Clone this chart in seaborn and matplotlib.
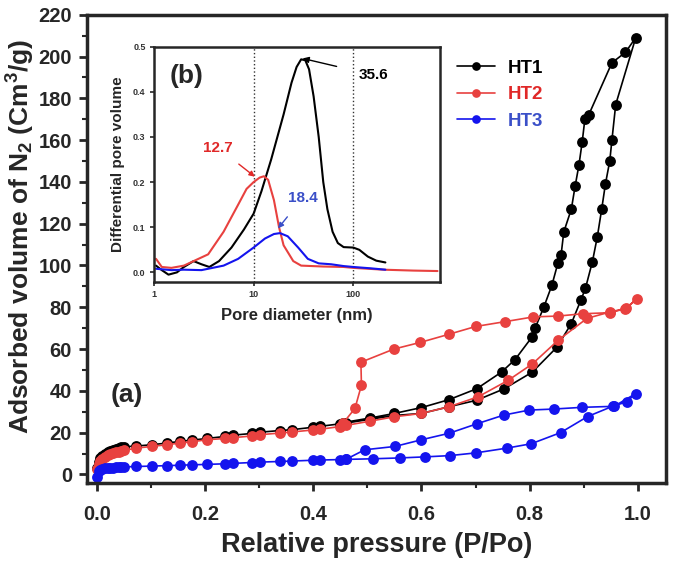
import numpy as np
import pandas as pd
import matplotlib
matplotlib.use('Agg')
import matplotlib.pyplot as plt
import seaborn as sns
from matplotlib.ticker import MultipleLocator, FixedLocator, NullLocator

sns.set_style('ticks')
plt.rcParams['font.family'] = ['Liberation Sans', 'DejaVu Sans']
plt.rcParams['font.weight'] = 'bold'
plt.rcParams['mathtext.fontset'] = 'custom'
plt.rcParams['mathtext.rm'] = 'Liberation Sans:bold'
plt.rcParams['mathtext.bf'] = 'Liberation Sans:bold'
plt.rcParams['mathtext.it'] = 'Liberation Sans:bold'
plt.rcParams['mathtext.default'] = 'bf'

# ---- isotherm data (P/Po, volume) ----
p_low = [0.001, 0.003, 0.006, 0.010, 0.015, 0.020, 0.025, 0.030, 0.035, 0.040, 0.045, 0.050,
         0.073, 0.101, 0.129, 0.153, 0.175, 0.203, 0.237, 0.252, 0.286, 0.301, 0.338, 0.360,
         0.400, 0.412, 0.449, 0.461]

ht1_low = [3.0, 6.0, 7.8, 9.0, 10.0, 10.7, 11.3, 11.8, 12.2, 12.6, 12.9, 13.2,
           13.6, 14.2, 15.0, 15.8, 16.4, 17.2, 18.2, 18.8, 19.6, 20.2, 21.0, 21.4,
           22.6, 23.0, 24.2, 24.6]
ht1_ads_p = [0.505, 0.550, 0.600, 0.651, 0.702, 0.753, 0.805, 0.850, 0.877, 0.895, 0.903, 0.916,
             0.925, 0.933, 0.940, 0.948, 0.952, 0.959, 0.996]
ht1_ads_v = [26.4, 28.2, 29.2, 32.4, 35.5, 41.0, 49.0, 60.8, 72.2, 83.7, 89.0, 101.9,
             113.7, 126.8, 139.0, 150.0, 160.0, 177.0, 209.0]
ht1_des_p = [0.977, 0.952, 0.909, 0.902, 0.897, 0.891, 0.884, 0.877, 0.863, 0.858, 0.852, 0.841,
             0.826, 0.810, 0.805, 0.773, 0.748, 0.702, 0.651, 0.600, 0.550, 0.505, 0.455]
ht1_des_v = [202.0, 197.0, 172.0, 170.0, 159.0, 148.0, 138.0, 127.0, 116.0, 105.0, 101.0, 90.5,
             80.0, 70.0, 66.0, 55.0, 49.0, 41.0, 35.8, 32.0, 29.2, 27.0, 24.8]

ht2_low = [2.5, 5.0, 6.5, 7.6, 8.5, 9.2, 9.8, 10.2, 10.6, 10.9, 11.2, 11.5,
           12.6, 13.4, 14.2, 15.0, 15.6, 16.6, 17.2, 17.6, 18.4, 19.0, 19.8, 20.3,
           21.3, 21.6, 22.9, 23.5]
ht2_ads_p = [0.505, 0.550, 0.600, 0.651, 0.705, 0.760, 0.805, 0.853, 0.906, 0.948, 0.978, 0.998]
ht2_ads_v = [25.5, 27.6, 29.2, 32.4, 37.2, 45.0, 52.9, 64.3, 74.7, 77.7, 79.5, 84.0]
ht2_des_p = [0.977, 0.948, 0.898, 0.853, 0.807, 0.754, 0.700, 0.651, 0.598, 0.549, 0.488, 0.489,
             0.477, 0.455]
ht2_des_v = [79.3, 77.4, 76.9, 75.8, 75.4, 73.1, 70.8, 67.1, 63.2, 60.0, 53.7, 42.7,
             31.6, 24.5]

ht3_low = [-1.0, 1.5, 2.2, 2.6, 2.9, 3.1, 3.2, 3.3, 3.4, 3.5, 3.5, 3.6,
           3.8, 4.0, 4.2, 4.4, 4.6, 4.8, 5.1, 5.3, 5.7, 5.9, 6.2, 6.4,
           6.8, 6.9, 7.1, 7.2]
ht3_ads_p = [0.511, 0.560, 0.606, 0.652, 0.700, 0.758, 0.803, 0.857, 0.907, 0.954, 0.979, 0.996]
ht3_ads_v = [7.5, 7.9, 8.4, 9.0, 10.3, 12.6, 14.7, 20.0, 27.7, 32.7, 34.7, 38.7]
ht3_des_p = [0.956, 0.896, 0.845, 0.799, 0.752, 0.702, 0.651, 0.600, 0.551, 0.495, 0.461]
ht3_des_v = [32.6, 32.1, 31.3, 30.8, 28.4, 24.2, 19.7, 16.6, 13.4, 11.8, 7.3]

# ---- pore size distribution (inset) ----
d_ht1 = [1.05, 1.2, 1.4, 1.7, 2.0, 2.5, 3.0, 3.6, 4.5, 6, 8, 10, 12, 15, 20, 24, 27, 30, 33,
         36, 40, 45, 50, 55, 62, 70, 80, 100, 115, 140, 170, 210]
dv_ht1 = [0.015, 0.005, -0.005, 0.0, 0.012, 0.025, 0.018, 0.012, 0.025, 0.055, 0.095, 0.13,
          0.18, 0.25, 0.35, 0.42, 0.455, 0.472, 0.47, 0.45, 0.39, 0.30, 0.20, 0.14, 0.09,
          0.065, 0.056, 0.055, 0.05, 0.035, 0.026, 0.022]
d_ht2 = [1.05, 1.2, 1.5, 2.0, 2.5, 3.5, 5, 7, 8.5, 10, 11.5, 12.7, 14, 16, 18, 20, 25, 30, 50,
         80, 100, 200, 400, 700]
dv_ht2 = [0.03, 0.012, 0.01, 0.015, 0.025, 0.04, 0.09, 0.15, 0.185, 0.2, 0.21, 0.213, 0.205,
          0.16, 0.10, 0.06, 0.025, 0.015, 0.013, 0.012, 0.01, 0.006, 0.004, 0.003]
d_ht3 = [1.05, 1.5, 2, 3, 5, 7, 10, 13, 16, 18.4, 22, 28, 35, 45, 60, 80, 100, 150, 210]
dv_ht3 = [0.008, 0.005, 0.006, 0.005, 0.015, 0.03, 0.055, 0.075, 0.085, 0.087, 0.08, 0.055,
          0.03, 0.02, 0.018, 0.014, 0.012, 0.009, 0.006]

names = ['HT1', 'HT2', 'HT3']
colors = {'HT1': 'black', 'HT2': '#E8413F', 'HT3': '#1414EE'}
text_colors = {'HT1': 'black', 'HT2': '#E02828', 'HT3': '#3A4FC8'}

iso = []
for name, low, ap, av, dp, dv in [
        ('HT1', ht1_low, ht1_ads_p, ht1_ads_v, ht1_des_p, ht1_des_v),
        ('HT2', ht2_low, ht2_ads_p, ht2_ads_v, ht2_des_p, ht2_des_v),
        ('HT3', ht3_low, ht3_ads_p, ht3_ads_v, ht3_des_p, ht3_des_v)]:
    p = list(p_low) + ap + dp
    v = list(low) + av + dv
    iso.append(pd.DataFrame({'P': p, 'V': v, 'sample': name}))
iso = pd.concat(iso, ignore_index=True)

psd = pd.concat([
    pd.DataFrame({'D': d_ht1, 'dV': dv_ht1, 'sample': 'HT1'}),
    pd.DataFrame({'D': d_ht2, 'dV': dv_ht2, 'sample': 'HT2'}),
    pd.DataFrame({'D': d_ht3, 'dV': dv_ht3, 'sample': 'HT3'}),
], ignore_index=True)

fig = plt.figure(figsize=(6.81, 5.66), dpi=100)
ax = fig.add_axes([0.128, 0.147, 0.850, 0.827])

for name in names:
    sub = iso[iso['sample'] == name]
    sns.lineplot(data=sub, x='P', y='V', sort=False, estimator=None, ax=ax,
                 color=colors[name], marker='o', markersize=7.8, markeredgewidth=0,
                 linewidth=1.2, label=name)

ax.set_xlim(-0.018, 1.052)
ax.set_ylim(-4, 220)
ax.xaxis.set_minor_locator(MultipleLocator(0.1))
ax.yaxis.set_major_locator(MultipleLocator(20))
ax.yaxis.set_minor_locator(MultipleLocator(10))
ax.set_xticks([0, 0.2, 0.4, 0.6, 0.8, 1.0])
ax.set_xticklabels(['0.0', '0.2', '0.4', '0.6', '0.8', '1.0'])
ax.tick_params(which='major', direction='out', length=6, width=2, labelsize=14.5)
ax.tick_params(axis='x', which='major', pad=10)
ax.tick_params(axis='y', which='major', pad=5)
ax.tick_params(which='minor', direction='out', length=3.5, width=1.5)
for lab in ax.get_xticklabels() + ax.get_yticklabels():
    lab.set_fontweight('bold')
for s in ax.spines.values():
    s.set_linewidth(2.5)

ax.set_xlabel('Relative pressure (P/Po)', fontsize=19.5, fontweight='bold', labelpad=6)
ax.set_ylabel(r'Adsorbed volume of N$_2$ (Cm$^3$/g)', fontsize=19, fontweight='bold')
ax.yaxis.set_label_coords(-0.086, 0.526)
ax.text(0.025, 38, '(a)', fontsize=19, fontweight='bold', ha='left', va='center')

leg = ax.legend(loc='upper left', bbox_to_anchor=(0.61, 0.94), frameon=False,
                prop={'size': 13.5, 'weight': 'bold'}, handlelength=2.0, handletextpad=0.7,
                labelspacing=0.5, markerscale=0.8)
for t, name in zip(leg.get_texts(), names):
    t.set_color(text_colors[name])

# ---- inset ----
ins = fig.add_axes([0.226, 0.502, 0.420, 0.4155])
ins.set_facecolor('white')
sns.lineplot(data=psd, x='D', y='dV', hue='sample', palette=colors, sort=False,
             estimator=None, ax=ins, linewidth=1.5, legend=False)
ins.set_xscale('log')
ins.set_xlim(1, 740)
ins.set_ylim(-0.021, 0.5)
ins.xaxis.set_major_locator(FixedLocator([1, 10, 100]))
ins.xaxis.set_minor_locator(NullLocator())
ins.set_xticklabels(['1', '10', '100'])
ins.yaxis.set_major_locator(MultipleLocator(0.1))
ins.tick_params(which='major', direction='out', length=3, width=1.2, labelsize=6.5, pad=3)
for lab in ins.get_xticklabels() + ins.get_yticklabels():
    lab.set_fontweight('bold')
    lab.set_color('#333333')
for s in ins.spines.values():
    s.set_linewidth(1.8)
ins.axvline(10, color='#333333', linestyle=':', linewidth=1.0, zorder=0)
ins.axvline(100, color='#333333', linestyle=':', linewidth=1.0, zorder=0)
ins.set_xlabel('Pore diameter (nm)', fontsize=12, fontweight='bold', labelpad=6)
ins.set_ylabel('Differential pore volume', fontsize=11, fontweight='bold', labelpad=6)
ins.text(1.45, 0.435, '(b)', fontsize=19, fontweight='bold', ha='left', va='center')

ins.annotate('35.6', xy=(31, 0.474), xytext=(160, 0.437), fontsize=11, fontweight='bold',
             color='black', ha='center', va='center',
             arrowprops=dict(arrowstyle='-|>', color='black', lw=1.0, mutation_scale=9,
                             shrinkA=14, shrinkB=0))
ins.annotate('12.7', xy=(10.3, 0.212), xytext=(4.4, 0.276), fontsize=11, fontweight='bold',
             color=text_colors['HT2'], ha='center', va='center',
             arrowprops=dict(arrowstyle='-|>', color=text_colors['HT2'], lw=1.0,
                             mutation_scale=8, shrinkA=7, shrinkB=0))
ins.annotate('18.4', xy=(17.6, 0.0975), xytext=(31, 0.165), fontsize=11, fontweight='bold',
             color=text_colors['HT3'], ha='center', va='center',
             arrowprops=dict(arrowstyle='-|>', color=text_colors['HT3'], lw=1.0,
                             mutation_scale=8, shrinkA=8, shrinkB=0))

fig.savefig('out.png', dpi=100)
